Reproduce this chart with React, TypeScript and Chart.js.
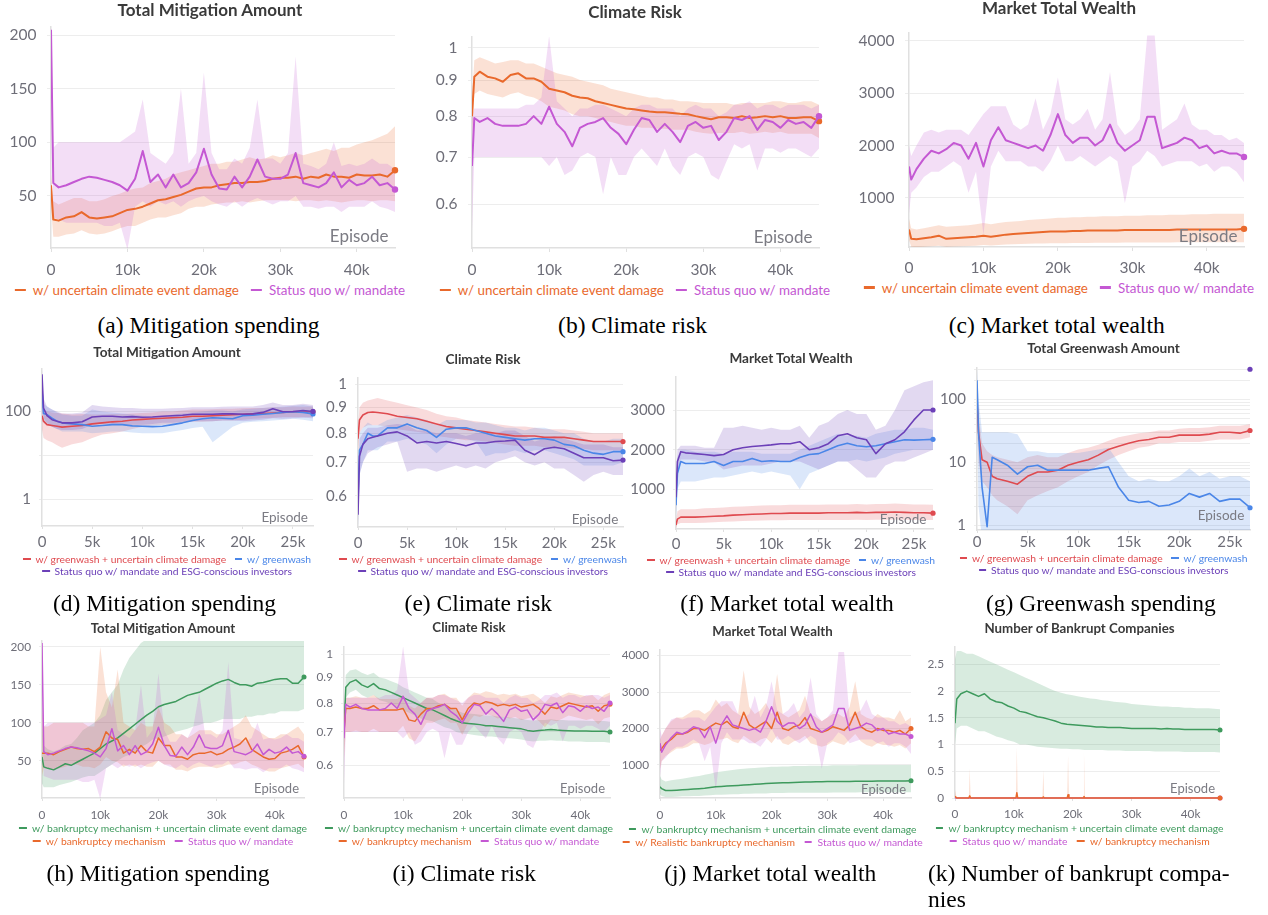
import React, { useEffect, useRef } from "react";
import { Chart, registerables } from "chart.js";

Chart.register(...registerables);

// ---------------- episodes (x values) ----------------
const EP45 = [0, 300, 1000, 2000, 3000, 4000, 5000, 6000, 7000, 8000, 9000, 10000, 11000, 12000, 13000, 14000, 15000, 16000, 17000, 18000, 19000, 20000, 21000, 22000, 23000, 24000, 25000, 26000, 27000, 28000, 29000, 30000, 31000, 32000, 33000, 34000, 35000, 36000, 37000, 38000, 39000, 40000, 41000, 42000, 43000, 44000, 45000];
const EP27 = [0, 150, 500, 1000, 1500, 2000, 3000, 4000, 5000, 6000, 7000, 8000, 9000, 10000, 11000, 12000, 13000, 14000, 15000, 16000, 17000, 18000, 19000, 20000, 21000, 22000, 23000, 24000, 25000, 26000, 27000];
const BK_COUNT_X = [0, 300, 2350, 2500, 2650, 10350, 10500, 10650, 14850, 15000, 15150, 19050, 19200, 19350, 21750, 21900, 22050, 45000];
const SQ_COUNT_X = [0, 45000];
const ESG_GW_X = [27000];

// ---------------- tick labels ----------------
const X_TICKS_45 = [0, 10000, 20000, 30000, 40000];
const X_TICKS_27 = [0, 5000, 10000, 15000, 20000, 25000];
const Y_MIT = [50, 100, 150, 200];
const Y_RISK = [0.6, 0.7, 0.8, 0.9, 1];
const Y_WEALTH = [1000, 2000, 3000, 4000];
const Y_WEALTH_F = [1000, 2000, 3000];
const Y_LOG_D = [1, 10, 100];
const Y_LOG_D_LABELS = [1, 100];
const Y_LOG_G = [1, 2, 3, 4, 5, 6, 7, 8, 9, 10, 20, 30, 40, 50, 60, 70, 80, 90, 100, 200, 300];
const Y_LOG_G_LABELS = [1, 10, 100];
const Y_COUNT = [0, 0.5, 1, 1.5, 2, 2.5];

// ---------------- series labels ----------------
const L_UNC = "w/ uncertain climate event damage";
const L_SQ = "Status quo w/ mandate";
const L_GW_UNC = "w/ greenwash + uncertain climate damage";
const L_GW = "w/ greenwash";
const L_ESG = "Status quo w/ mandate and ESG-conscious investors";
const L_BK_UNC = "w/ bankruptcy mechanism + uncertain climate event damage";
const L_BK = "w/ bankruptcy mechanism";
const L_BK_REAL = "w/ Realistic bankruptcy mechanism";

// ---------------- status quo w/ mandate (45k episodes) ----------------
const SQ_MIT = [205, 62, 58, 60, 63, 66, 68, 67, 65, 63, 60, 55, 66, 92, 63, 70, 58, 70, 58, 62, 72, 94, 70, 57, 56, 68, 58, 68, 84, 68, 66, 66, 70, 90, 62, 60, 58, 62, 72, 58, 65, 60, 62, 68, 60, 62, 56];
const SQ_MIT_HI = [210, 95, 100, 100, 100, 100, 100, 100, 100, 100, 100, 105, 110, 140, 90, 85, 80, 90, 150, 80, 90, 165, 90, 75, 75, 85, 80, 95, 140, 85, 85, 80, 90, 180, 80, 78, 75, 80, 100, 78, 80, 78, 80, 85, 80, 80, 75];
const SQ_MIT_LO = [150, 30, 28, 25, 25, 25, 25, 25, 22, 22, 25, 0, 40, 45, 40, 45, 42, 45, 40, 45, 48, 50, 45, 42, 40, 45, 40, 45, 48, 45, 42, 45, 45, 50, 40, 40, 38, 40, 40, 35, 40, 40, 40, 45, 40, 38, 35];

const SQ_RISK = [0.68, 0.795, 0.785, 0.795, 0.78, 0.775, 0.775, 0.775, 0.78, 0.8, 0.78, 0.825, 0.78, 0.76, 0.725, 0.77, 0.78, 0.785, 0.795, 0.77, 0.755, 0.73, 0.765, 0.795, 0.79, 0.76, 0.78, 0.76, 0.735, 0.775, 0.785, 0.77, 0.775, 0.74, 0.76, 0.795, 0.79, 0.8, 0.765, 0.79, 0.785, 0.77, 0.79, 0.78, 0.785, 0.77, 0.8];
const SQ_RISK_HI = [0.8, 0.82, 0.82, 0.82, 0.82, 0.82, 0.82, 0.82, 0.83, 0.83, 0.85, 1.04, 0.84, 0.82, 0.8, 0.82, 0.82, 0.83, 0.83, 0.82, 0.81, 0.8, 0.82, 0.83, 0.83, 0.82, 0.82, 0.82, 0.8, 0.82, 0.83, 0.82, 0.82, 0.8, 0.81, 0.83, 0.83, 0.84, 0.82, 0.83, 0.83, 0.82, 0.83, 0.83, 0.83, 0.82, 0.83];
const SQ_RISK_LO = [0.55, 0.7, 0.7, 0.7, 0.7, 0.7, 0.7, 0.7, 0.7, 0.7, 0.7, 0.68, 0.7, 0.66, 0.67, 0.7, 0.71, 0.7, 0.62, 0.7, 0.66, 0.66, 0.7, 0.72, 0.7, 0.68, 0.72, 0.68, 0.66, 0.7, 0.71, 0.7, 0.66, 0.65, 0.69, 0.73, 0.72, 0.73, 0.67, 0.72, 0.72, 0.71, 0.72, 0.72, 0.71, 0.7, 0.72];

const SQ_WEALTH = [1600, 1350, 1550, 1750, 1900, 1850, 1930, 2050, 2000, 1750, 2050, 1600, 2100, 2350, 2100, 2050, 2000, 1950, 2000, 1900, 2200, 2600, 2200, 2050, 2150, 2150, 2000, 2100, 2400, 2050, 1900, 2000, 2100, 2550, 2550, 1950, 2000, 2050, 2150, 2100, 1950, 2000, 1850, 1900, 1850, 1850, 1780];
const SQ_WEALTH_HI = [2000, 1800, 2000, 2250, 2300, 2250, 2300, 2300, 2300, 2200, 2400, 2600, 2750, 2750, 2750, 2400, 2300, 2400, 2900, 2300, 2600, 3300, 2500, 2400, 2500, 2700, 2300, 2500, 3400, 2400, 2200, 2300, 2500, 4100, 4100, 2300, 2400, 2500, 2800, 2400, 2300, 2300, 2200, 2200, 2100, 2150, 2050];
const SQ_WEALTH_LO = [700, 1100, 1200, 1400, 1500, 1500, 1600, 1700, 1600, 1100, 1500, 300, 1600, 1900, 1700, 1700, 1700, 1600, 1600, 1500, 1700, 2000, 1700, 1700, 1800, 1700, 1600, 1700, 1800, 1700, 900, 1600, 1700, 1900, 1800, 1600, 1650, 1700, 1700, 1700, 1600, 1650, 1500, 1600, 1600, 1500, 1300];

const SQ_COUNT = [0, 0];

// ---------------- w/ uncertain climate event damage (45k) ----------------
const UNC_MIT = [60, 28, 27, 30, 31, 35, 30, 29, 30, 31, 34, 37, 38, 40, 43, 46, 47, 49, 51, 54, 57, 58, 58, 60, 61, 62, 62, 63, 63, 64, 66, 67, 67, 68, 66, 68, 67, 70, 68, 68, 67, 70, 69, 69, 70, 68, 74];
const UNC_MIT_HI = [70, 45, 42, 45, 48, 48, 45, 45, 47, 50, 52, 55, 57, 58, 62, 64, 66, 70, 72, 74, 76, 78, 80, 80, 82, 82, 84, 86, 84, 85, 88, 86, 88, 90, 88, 90, 92, 94, 92, 95, 95, 98, 100, 102, 105, 108, 115];
const UNC_MIT_LO = [40, 12, 12, 14, 15, 18, 15, 14, 15, 17, 20, 22, 22, 25, 28, 30, 30, 32, 34, 38, 40, 40, 42, 43, 44, 44, 45, 44, 45, 46, 46, 46, 46, 45, 46, 46, 45, 46, 45, 44, 45, 46, 46, 45, 46, 46, 45];

const UNC_RISK = [0.8, 0.91, 0.925, 0.91, 0.905, 0.895, 0.915, 0.92, 0.905, 0.905, 0.895, 0.875, 0.87, 0.865, 0.855, 0.85, 0.848, 0.84, 0.835, 0.83, 0.825, 0.82, 0.818, 0.815, 0.812, 0.81, 0.81, 0.808, 0.806, 0.805, 0.8, 0.796, 0.792, 0.797, 0.797, 0.795, 0.8, 0.795, 0.797, 0.8, 0.797, 0.8, 0.795, 0.795, 0.797, 0.797, 0.787];
const UNC_RISK_HI = [0.85, 0.96, 0.97, 0.96, 0.95, 0.955, 0.96, 0.96, 0.95, 0.95, 0.94, 0.93, 0.92, 0.915, 0.91, 0.9, 0.895, 0.89, 0.885, 0.875, 0.87, 0.865, 0.86, 0.855, 0.85, 0.85, 0.845, 0.845, 0.84, 0.84, 0.838, 0.835, 0.835, 0.835, 0.835, 0.83, 0.835, 0.835, 0.835, 0.835, 0.84, 0.84, 0.835, 0.835, 0.84, 0.84, 0.83];
const UNC_RISK_LO = [0.75, 0.86, 0.87, 0.86, 0.855, 0.85, 0.86, 0.865, 0.855, 0.85, 0.84, 0.825, 0.82, 0.815, 0.805, 0.8, 0.8, 0.795, 0.79, 0.785, 0.78, 0.775, 0.775, 0.77, 0.77, 0.768, 0.768, 0.765, 0.765, 0.765, 0.76, 0.757, 0.755, 0.757, 0.757, 0.757, 0.76, 0.755, 0.757, 0.76, 0.757, 0.76, 0.755, 0.755, 0.755, 0.755, 0.745];

const UNC_WEALTH = [400, 220, 210, 230, 250, 280, 220, 230, 240, 250, 260, 280, 260, 280, 300, 310, 320, 330, 340, 350, 360, 360, 360, 370, 370, 380, 380, 380, 380, 380, 390, 390, 390, 390, 390, 390, 390, 400, 400, 400, 400, 400, 400, 400, 400, 400, 410];
const UNC_WEALTH_HI = [600, 420, 400, 420, 450, 480, 450, 460, 470, 480, 500, 520, 500, 520, 540, 550, 560, 580, 590, 600, 610, 620, 620, 630, 630, 640, 640, 650, 650, 650, 660, 660, 660, 670, 670, 670, 680, 680, 680, 690, 690, 690, 700, 700, 700, 700, 700];
const UNC_WEALTH_LO = [200, 70, 60, 70, 80, 90, 70, 75, 80, 85, 90, 100, 95, 100, 110, 115, 120, 125, 130, 130, 135, 135, 135, 140, 140, 140, 145, 145, 145, 145, 150, 150, 150, 150, 150, 150, 150, 155, 155, 155, 155, 155, 155, 155, 155, 155, 155];

// ---------------- greenwash runs (27k) ----------------
const GWU_MIT = [80, 60, 50, 48, 46, 44, 46, 48, 52, 55, 58, 60, 64, 66, 68, 70, 72, 74, 78, 78, 80, 82, 84, 86, 88, 90, 92, 95, 98, 97, 98];
const GWU_MIT_HI = [150, 110, 100, 95, 92, 90, 85, 88, 85, 85, 88, 88, 90, 92, 95, 100, 100, 105, 110, 110, 112, 115, 115, 118, 120, 120, 125, 125, 130, 128, 130];
const GWU_MIT_LO = [40, 25, 22, 20, 17, 15, 18, 20, 25, 30, 32, 35, 40, 45, 48, 50, 52, 55, 58, 58, 60, 62, 62, 65, 68, 70, 72, 75, 75, 75, 75];
const GW_MIT = [300, 90, 85, 70, 60, 55, 52, 50, 46, 48, 50, 50, 47, 46, 45, 46, 50, 55, 62, 68, 72, 70, 68, 80, 82, 86, 90, 95, 98, 95, 88];
const GW_MIT_HI = [600, 150, 130, 110, 95, 85, 80, 80, 110, 100, 95, 90, 85, 80, 78, 78, 85, 90, 95, 100, 105, 105, 100, 110, 115, 120, 125, 130, 135, 140, 130];
const GW_MIT_LO = [100, 55, 50, 45, 40, 35, 35, 35, 32, 33, 35, 35, 33, 32, 32, 32, 35, 38, 42, 45, 20, 30, 45, 55, 58, 60, 62, 65, 68, 65, 60];
const ESG_MIT = [700, 120, 80, 65, 60, 55, 55, 58, 75, 78, 78, 75, 76, 74, 75, 78, 80, 82, 86, 86, 86, 88, 88, 86, 88, 95, 115, 98, 100, 105, 100];
const ESG_MIT_HI = [900, 200, 130, 110, 100, 90, 90, 95, 140, 130, 125, 120, 120, 115, 115, 115, 118, 120, 125, 125, 125, 128, 130, 130, 130, 140, 160, 140, 140, 150, 140];
const ESG_MIT_LO = [300, 70, 55, 45, 40, 38, 38, 40, 50, 52, 52, 50, 50, 50, 52, 55, 55, 58, 60, 60, 60, 62, 62, 60, 62, 65, 70, 68, 70, 72, 70];

const GWU_RISK = [0.78, 0.85, 0.87, 0.88, 0.882, 0.88, 0.875, 0.865, 0.86, 0.855, 0.845, 0.835, 0.825, 0.82, 0.815, 0.81, 0.805, 0.8, 0.795, 0.79, 0.79, 0.79, 0.785, 0.785, 0.785, 0.78, 0.775, 0.77, 0.77, 0.77, 0.77];
const GWU_RISK_HI = [0.82, 0.9, 0.92, 0.93, 0.935, 0.94, 0.93, 0.92, 0.91, 0.9, 0.89, 0.875, 0.865, 0.86, 0.85, 0.845, 0.84, 0.835, 0.83, 0.825, 0.825, 0.82, 0.815, 0.815, 0.815, 0.81, 0.805, 0.8, 0.8, 0.8, 0.8];
const GWU_RISK_LO = [0.72, 0.8, 0.82, 0.83, 0.83, 0.83, 0.825, 0.815, 0.81, 0.805, 0.8, 0.79, 0.785, 0.78, 0.775, 0.775, 0.77, 0.765, 0.76, 0.755, 0.755, 0.755, 0.75, 0.75, 0.75, 0.745, 0.745, 0.74, 0.74, 0.74, 0.74];
const GW_RISK = [0.58, 0.74, 0.76, 0.8, 0.79, 0.79, 0.82, 0.82, 0.835, 0.82, 0.81, 0.785, 0.815, 0.82, 0.82, 0.81, 0.8, 0.79, 0.785, 0.78, 0.775, 0.78, 0.78, 0.775, 0.76, 0.755, 0.74, 0.73, 0.726, 0.735, 0.735];
const GW_RISK_HI = [0.65, 0.8, 0.82, 0.84, 0.83, 0.83, 0.85, 0.86, 0.87, 0.86, 0.85, 0.83, 0.85, 0.85, 0.85, 0.84, 0.84, 0.83, 0.82, 0.82, 0.81, 0.82, 0.82, 0.81, 0.8, 0.8, 0.78, 0.77, 0.77, 0.78, 0.78];
const GW_RISK_LO = [0.52, 0.66, 0.7, 0.74, 0.74, 0.74, 0.77, 0.77, 0.78, 0.77, 0.76, 0.73, 0.76, 0.78, 0.78, 0.77, 0.72, 0.73, 0.73, 0.74, 0.73, 0.74, 0.74, 0.73, 0.72, 0.71, 0.69, 0.69, 0.69, 0.69, 0.7];
const ESG_RISK = [0.55, 0.72, 0.76, 0.78, 0.785, 0.79, 0.8, 0.805, 0.79, 0.765, 0.77, 0.765, 0.77, 0.763, 0.755, 0.765, 0.765, 0.77, 0.772, 0.775, 0.74, 0.725, 0.745, 0.75, 0.745, 0.73, 0.715, 0.715, 0.715, 0.705, 0.707];
const ESG_RISK_HI = [0.6, 0.78, 0.8, 0.82, 0.82, 0.82, 0.83, 0.835, 0.83, 0.81, 0.81, 0.8, 0.8, 0.8, 0.79, 0.8, 0.8, 0.8, 0.81, 0.81, 0.79, 0.77, 0.78, 0.79, 0.78, 0.77, 0.76, 0.76, 0.76, 0.75, 0.75];
const ESG_RISK_LO = [0.52, 0.66, 0.7, 0.73, 0.74, 0.75, 0.76, 0.77, 0.67, 0.68, 0.68, 0.67, 0.68, 0.69, 0.68, 0.69, 0.68, 0.7, 0.71, 0.72, 0.7, 0.69, 0.7, 0.68, 0.68, 0.66, 0.64, 0.66, 0.67, 0.66, 0.66];

const GWU_WEALTH = [100, 250, 300, 300, 300, 300, 310, 320, 330, 350, 360, 370, 380, 390, 390, 400, 400, 400, 400, 410, 410, 410, 420, 410, 420, 420, 430, 420, 410, 410, 400];
const GWU_WEALTH_HI = [200, 450, 500, 500, 500, 500, 520, 530, 540, 560, 570, 580, 590, 600, 600, 610, 610, 610, 610, 620, 620, 620, 630, 620, 630, 630, 640, 630, 620, 620, 610];
const GWU_WEALTH_LO = [20, 120, 150, 150, 150, 150, 160, 170, 180, 190, 200, 210, 215, 220, 220, 225, 225, 225, 225, 230, 230, 230, 235, 230, 235, 235, 240, 235, 230, 230, 225];
const GW_WEALTH = [600, 1400, 1700, 1650, 1650, 1650, 1650, 1700, 1600, 1700, 1700, 1780, 1700, 1720, 1700, 1700, 1800, 1880, 1900, 2000, 2100, 2160, 2100, 2075, 2100, 2150, 2200, 2250, 2240, 2250, 2260];
const GW_WEALTH_HI = [1000, 1800, 2000, 2000, 1980, 1950, 1950, 1950, 1900, 1950, 1950, 1950, 1900, 1900, 1900, 1900, 2000, 2100, 2200, 2300, 2400, 2350, 2350, 2300, 2400, 2450, 2500, 2500, 2550, 2550, 2500];
const GW_WEALTH_LO = [200, 1000, 1200, 1200, 1200, 1200, 1250, 1300, 1300, 1350, 1400, 1450, 1400, 1450, 1400, 1350, 1000, 1400, 1500, 1600, 1700, 1700, 1750, 1700, 1750, 1800, 1900, 1950, 2000, 2000, 2000];
const ESG_WEALTH = [800, 1700, 1950, 1920, 1910, 1900, 1880, 1850, 1880, 2000, 2050, 2080, 2100, 2120, 2150, 2150, 2200, 2000, 2050, 2150, 2350, 2400, 2300, 2250, 1900, 2150, 2250, 2450, 2750, 3000, 3000];
const ESG_WEALTH_HI = [1200, 2000, 2100, 2100, 2100, 2100, 2050, 2050, 2550, 2550, 2600, 2550, 2500, 2550, 2500, 2500, 2600, 2300, 2600, 2700, 2900, 3000, 2900, 2900, 2500, 2600, 3000, 3500, 3600, 3700, 3750];
const ESG_WEALTH_LO = [400, 1400, 1750, 1750, 1750, 1750, 1700, 1680, 1500, 1550, 1600, 1600, 1600, 1650, 1700, 1700, 1700, 1600, 1500, 1600, 1700, 1700, 1500, 1300, 1300, 1600, 1700, 1700, 1800, 1900, 2000];

const GWU_GW = [100, 30, 11, 10, 6, 5.5, 5, 4.5, 6, 7, 7, 7.5, 9, 10, 11, 13, 16, 18, 20, 22, 23, 25, 25, 27, 27, 27, 28, 30, 30, 29, 32];
const GWU_GW_HI = [150, 60, 20, 15, 13, 12, 11, 10, 12, 13, 12, 12, 14, 16, 17, 19, 22, 25, 27, 29, 30, 32, 32, 34, 35, 35, 36, 38, 38, 38, 40];
const GWU_GW_LO = [40, 10, 5, 4, 3, 2.5, 2, 1.5, 2.5, 3, 3.5, 4, 5, 6, 7, 9, 11, 13, 15, 17, 18, 20, 20, 21, 21, 21, 22, 23, 23, 23, 25];
const GW_GW = [200, 30, 4, 0.95, 12, 11, 9, 6.5, 8.5, 9, 7.5, 7.5, 7.5, 7.5, 7.5, 8, 8.5, 4, 2.5, 2.3, 2.4, 2, 2.1, 2.4, 3.2, 2.8, 3.2, 2.4, 2.6, 2.6, 1.9];
const GW_GW_HI = [300, 100, 30, 30, 30, 30, 30, 28, 15, 15, 14, 14, 14, 14, 15, 16, 17, 10, 6, 5, 5.5, 5, 5, 6, 8, 6, 7, 5.5, 6, 6, 5];
const GW_GW_LO = [50, 2, 0.6, 0.5, 0.6, 0.6, 0.6, 0.6, 0.7, 0.8, 0.7, 0.7, 0.7, 0.7, 0.7, 0.7, 0.6, 0.6, 0.6, 0.6, 0.6, 0.6, 0.6, 0.6, 0.6, 0.6, 0.6, 0.6, 0.6, 0.6, 0.6];
const ESG_GW = [300];

// ---------------- bankruptcy runs (45k) ----------------
const BKU_MIT = [55, 42, 40, 38, 42, 46, 44, 48, 52, 56, 60, 66, 72, 76, 80, 86, 92, 98, 104, 110, 115, 121, 124, 126, 128, 132, 136, 138, 140, 144, 148, 152, 155, 157, 153, 150, 150, 148, 152, 153, 155, 157, 158, 158, 152, 152, 160];
const BKU_MIT_HI = [100, 70, 65, 62, 65, 70, 72, 80, 90, 95, 100, 110, 130, 140, 150, 170, 185, 195, 205, 210, 212, 212, 212, 212, 212, 212, 212, 212, 212, 212, 212, 212, 212, 212, 212, 212, 212, 212, 212, 212, 212, 212, 212, 212, 212, 212, 212];
const BKU_MIT_LO = [20, 15, 15, 15, 18, 20, 22, 25, 28, 30, 30, 35, 40, 45, 50, 55, 58, 62, 68, 72, 78, 80, 82, 85, 88, 90, 92, 95, 97, 100, 100, 102, 105, 105, 105, 105, 108, 108, 110, 110, 112, 112, 115, 115, 115, 115, 118];
const BK_MIT = [60, 60, 60, 58, 62, 65, 68, 66, 65, 66, 62, 68, 88, 80, 78, 60, 65, 60, 70, 62, 60, 80, 70, 70, 55, 55, 52, 58, 60, 60, 62, 58, 60, 65, 68, 72, 80, 65, 60, 55, 52, 53, 60, 62, 65, 70, 55];
const BK_MIT_HI = [120, 95, 95, 100, 100, 100, 100, 100, 100, 95, 95, 200, 140, 120, 170, 100, 95, 90, 100, 95, 95, 120, 100, 95, 85, 85, 80, 85, 90, 90, 90, 85, 85, 90, 95, 100, 110, 95, 90, 85, 80, 80, 85, 85, 90, 95, 85];
const BK_MIT_LO = [30, 40, 40, 38, 40, 42, 45, 45, 42, 42, 40, 45, 55, 50, 48, 42, 45, 42, 45, 42, 42, 50, 45, 45, 38, 38, 36, 40, 42, 42, 42, 40, 42, 45, 45, 48, 50, 45, 42, 38, 36, 36, 40, 42, 44, 46, 40];

const BKU_RISK = [0.7, 0.86, 0.88, 0.89, 0.87, 0.86, 0.875, 0.855, 0.85, 0.84, 0.83, 0.82, 0.81, 0.8, 0.79, 0.78, 0.775, 0.765, 0.755, 0.745, 0.737, 0.73, 0.728, 0.726, 0.724, 0.72, 0.72, 0.718, 0.716, 0.714, 0.712, 0.71, 0.705, 0.702, 0.705, 0.706, 0.708, 0.706, 0.705, 0.704, 0.703, 0.703, 0.703, 0.702, 0.702, 0.702, 0.7];
const BKU_RISK_HI = [0.75, 0.91, 0.93, 0.935, 0.92, 0.91, 0.92, 0.9, 0.895, 0.885, 0.875, 0.86, 0.85, 0.84, 0.83, 0.82, 0.815, 0.8, 0.79, 0.78, 0.775, 0.765, 0.762, 0.76, 0.758, 0.755, 0.755, 0.752, 0.75, 0.748, 0.746, 0.744, 0.74, 0.738, 0.74, 0.74, 0.742, 0.74, 0.74, 0.738, 0.738, 0.738, 0.737, 0.736, 0.736, 0.736, 0.734];
const BKU_RISK_LO = [0.65, 0.82, 0.84, 0.85, 0.83, 0.82, 0.83, 0.81, 0.805, 0.795, 0.785, 0.775, 0.765, 0.755, 0.745, 0.74, 0.735, 0.725, 0.715, 0.71, 0.7, 0.695, 0.693, 0.69, 0.688, 0.685, 0.685, 0.683, 0.68, 0.68, 0.678, 0.676, 0.672, 0.67, 0.672, 0.672, 0.674, 0.672, 0.672, 0.67, 0.67, 0.67, 0.668, 0.668, 0.668, 0.668, 0.666];
const BK_RISK = [0.7, 0.78, 0.78, 0.785, 0.78, 0.78, 0.79, 0.775, 0.775, 0.775, 0.775, 0.78, 0.74, 0.735, 0.76, 0.78, 0.78, 0.79, 0.795, 0.78, 0.78, 0.74, 0.78, 0.8, 0.795, 0.805, 0.8, 0.79, 0.795, 0.79, 0.795, 0.785, 0.79, 0.795, 0.78, 0.76, 0.785, 0.78, 0.79, 0.8, 0.795, 0.79, 0.785, 0.79, 0.77, 0.79, 0.795];
const BK_RISK_HI = [0.75, 0.82, 0.82, 0.825, 0.82, 0.82, 0.83, 0.815, 0.815, 0.815, 0.815, 0.83, 0.79, 0.78, 0.8, 0.82, 0.82, 0.83, 0.835, 0.82, 0.82, 0.79, 0.82, 0.84, 0.835, 0.845, 0.84, 0.83, 0.835, 0.83, 0.835, 0.825, 0.83, 0.835, 0.82, 0.8, 0.825, 0.82, 0.83, 0.84, 0.835, 0.83, 0.825, 0.83, 0.81, 0.83, 0.84];
const BK_RISK_LO = [0.62, 0.7, 0.7, 0.705, 0.7, 0.7, 0.71, 0.7, 0.7, 0.7, 0.7, 0.72, 0.68, 0.67, 0.7, 0.73, 0.73, 0.74, 0.745, 0.73, 0.73, 0.69, 0.73, 0.755, 0.75, 0.76, 0.755, 0.745, 0.75, 0.745, 0.75, 0.74, 0.745, 0.75, 0.735, 0.715, 0.74, 0.735, 0.745, 0.755, 0.75, 0.745, 0.74, 0.745, 0.725, 0.745, 0.75];

const BKU_WEALTH = [400, 350, 300, 300, 310, 320, 330, 340, 350, 360, 380, 400, 410, 420, 430, 440, 450, 460, 470, 480, 490, 500, 505, 510, 515, 520, 525, 530, 535, 540, 540, 545, 545, 550, 550, 550, 555, 555, 555, 555, 560, 560, 560, 560, 560, 560, 570];
const BKU_WEALTH_HI = [700, 600, 550, 580, 600, 620, 650, 680, 700, 730, 760, 800, 820, 840, 860, 880, 900, 910, 920, 930, 940, 950, 950, 960, 960, 970, 970, 970, 980, 980, 980, 980, 990, 990, 990, 990, 990, 1000, 1000, 1000, 1000, 1000, 1000, 1000, 1000, 1000, 1000];
const BKU_WEALTH_LO = [200, 150, 120, 120, 130, 140, 140, 150, 150, 160, 170, 180, 180, 190, 200, 200, 210, 210, 220, 220, 220, 230, 230, 230, 235, 235, 235, 240, 240, 240, 240, 240, 245, 245, 245, 245, 245, 250, 250, 250, 250, 250, 250, 250, 250, 250, 250];
const BK_WEALTH = [1400, 1450, 1600, 1700, 1850, 1850, 1900, 2000, 2000, 1950, 2050, 2150, 2100, 2200, 2050, 2000, 2450, 2100, 2000, 2100, 2200, 2000, 2450, 2000, 1950, 2050, 2100, 2300, 2000, 1950, 1900, 1950, 2050, 2000, 1950, 2100, 2450, 2050, 1950, 1900, 2000, 1950, 1950, 1900, 1950, 1850, 2000];
const BK_WEALTH_HI = [1700, 1800, 2000, 2200, 2300, 2300, 2400, 2500, 2500, 2400, 2500, 2800, 2600, 2700, 2500, 2400, 3600, 2600, 2400, 2500, 2700, 2400, 3500, 2400, 2300, 2400, 2500, 2900, 2400, 2300, 2200, 2300, 2400, 2400, 2300, 2600, 3300, 2400, 2300, 2250, 2400, 2300, 2300, 2250, 2500, 2200, 2300];
const BK_WEALTH_LO = [900, 1100, 1250, 1350, 1450, 1450, 1500, 1600, 1600, 1550, 1600, 1700, 1700, 1750, 1650, 1600, 1800, 1700, 1600, 1700, 1750, 1600, 1800, 1600, 1550, 1650, 1700, 1800, 1600, 1550, 1500, 1550, 1650, 1600, 1550, 1700, 1850, 1650, 1550, 1500, 1600, 1550, 1550, 1500, 1550, 1450, 1600];

const BKU_COUNT = [1.4, 1.85, 1.95, 2.0, 1.95, 1.9, 1.95, 1.85, 1.8, 1.78, 1.72, 1.68, 1.62, 1.6, 1.56, 1.52, 1.5, 1.47, 1.44, 1.4, 1.38, 1.37, 1.36, 1.35, 1.34, 1.33, 1.33, 1.32, 1.32, 1.32, 1.31, 1.3, 1.3, 1.3, 1.3, 1.3, 1.29, 1.3, 1.29, 1.29, 1.28, 1.28, 1.28, 1.28, 1.28, 1.28, 1.27];
const BKU_COUNT_HI = [2.6, 2.75, 2.75, 2.7, 2.7, 2.65, 2.6, 2.55, 2.5, 2.45, 2.4, 2.35, 2.3, 2.25, 2.2, 2.15, 2.1, 2.05, 2.0, 1.97, 1.94, 1.92, 1.9, 1.88, 1.86, 1.85, 1.83, 1.82, 1.8, 1.79, 1.78, 1.76, 1.75, 1.74, 1.73, 1.72, 1.71, 1.71, 1.7, 1.7, 1.69, 1.69, 1.68, 1.68, 1.68, 1.67, 1.66];
const BKU_COUNT_LO = [1.0, 1.3, 1.35, 1.35, 1.3, 1.25, 1.25, 1.2, 1.15, 1.12, 1.08, 1.05, 1.0, 1.0, 0.98, 0.96, 0.95, 0.94, 0.93, 0.92, 0.92, 0.91, 0.91, 0.9, 0.9, 0.9, 0.9, 0.89, 0.89, 0.89, 0.88, 0.88, 0.88, 0.88, 0.88, 0.87, 0.87, 0.87, 0.87, 0.87, 0.86, 0.86, 0.86, 0.86, 0.86, 0.86, 0.85];
const BK_COUNT = [0.03, 0, 0, 0.04, 0, 0, 0.1, 0, 0, 0.02, 0, 0, 0.06, 0, 0, 0.03, 0, 0];
const BK_COUNT_HI = [0.15, 0, 0, 0.55, 0, 0, 0.95, 0, 0, 0.52, 0, 0, 0.8, 0, 0, 0.86, 0, 0];
const BK_COUNT_LO = [0, 0, 0, 0, 0, 0, 0, 0, 0, 0, 0, 0, 0, 0, 0, 0, 0, 0];

// ---------------- styles ----------------
const ORANGE = "#e9692c";
const MAGENTA = "#c458d3";
const RED = "#df4a4f";
const BLUE = "#4a86e8";
const VIOLET = "#6c40b8";
const GREEN = "#3e9a5d";
const TICK = "#6e6e78";
const GRID = "#ededed";
const AXIS = "#e0e0e0";
const SANS = "Lato, 'Noto Sans', sans-serif";
const SERIF = "'Liberation Serif', 'Times New Roman', serif";

type Series = { label: string; color: string; x: number[]; mean: number[]; hi?: number[]; lo?: number[] };
type Panel = {
  title: string; cx: number; titleY: number; titleSize: number;
  L: number; T: number; R: number; B: number; yw: number;
  xMax: number; xTicks: number[];
  yType: "linear" | "logarithmic"; yMin: number; yMax: number; yTicks: number[]; yLabels: number[];
  tickSize: number; tickLen: number; xPad: number; yPad: number;
  epSize: number; epDx: number; epDy: number;
  lw: number; dot: number;
  series: Series[];
  legend: number[][]; legendY: number[]; legendSize: number; dashW: number; dashH: number; dashGap: number; itemGap: number;
  caption: string[]; capX: number; capY: number; capLeft?: boolean;
};

const ROW1 = { titleSize: 17, yw: 52, tickSize: 15.5, tickLen: 4, yPad: 10.5, epSize: 17, lw: 2, dot: 3.2, legendSize: 13.4, dashW: 11, dashH: 2.5, dashGap: 7, itemGap: 12, capY: 325 };
const ROW2 = { titleSize: 13.6, yw: 48, tickSize: 15, tickLen: 3, yPad: 8, epSize: 13.5, lw: 1.6, dot: 2.6, legendSize: 10.3, dashW: 7.5, dashH: 2, dashGap: 5, itemGap: 8.5, capY: 602.5 };
const ROW3 = { titleSize: 13.3, yw: 42, tickSize: 11.8, tickLen: 3, yPad: 8, epSize: 13, lw: 1.5, dot: 2.5, legendSize: 10.35, dashW: 7.5, dashH: 2, dashGap: 5.5, itemGap: 9.5, capY: 873.3 };

const PANELS: Panel[] = [
  {
    ...ROW1, title: "Total Mitigation Amount", cx: 210, titleY: 10,
    L: 51, T: 27, R: 395, B: 248, xMax: 45000, xTicks: X_TICKS_45,
    yType: "linear", yMin: 1.5, yMax: 207.5, yTicks: Y_MIT, yLabels: Y_MIT, xPad: 8.5,
    epDx: 6.5, epDy: 11,
    series: [
      { label: L_UNC, color: ORANGE, x: EP45, mean: UNC_MIT, hi: UNC_MIT_HI, lo: UNC_MIT_LO },
      { label: L_SQ, color: MAGENTA, x: EP45, mean: SQ_MIT, hi: SQ_MIT_HI, lo: SQ_MIT_LO },
    ],
    legend: [[0, 1]], legendY: [290], caption: ["(a) Mitigation spending"], capX: 208.5,
  },
  {
    ...ROW1, title: "Climate Risk", cx: 635, titleY: 12,
    L: 472, T: 37, R: 819, B: 248, xMax: 45000, xTicks: X_TICKS_45,
    yType: "logarithmic", yMin: 0.52, yMax: 1.036, yTicks: Y_RISK, yLabels: Y_RISK, xPad: 8.5,
    epDx: 6.5, epDy: 10,
    series: [
      { label: L_UNC, color: ORANGE, x: EP45, mean: UNC_RISK, hi: UNC_RISK_HI, lo: UNC_RISK_LO },
      { label: L_SQ, color: MAGENTA, x: EP45, mean: SQ_RISK, hi: SQ_RISK_HI, lo: SQ_RISK_LO },
    ],
    legend: [[0, 1]], legendY: [290], caption: ["(b) Climate risk"], capX: 632.5,
  },
  {
    ...ROW1, title: "Market Total Wealth", cx: 1059, titleY: 8,
    L: 909, T: 33, R: 1244, B: 247, xMax: 45000, xTicks: X_TICKS_45,
    yType: "linear", yMin: 64, yMax: 4147, yTicks: Y_WEALTH, yLabels: Y_WEALTH, xPad: 8,
    epDx: 6.5, epDy: 10.7,
    series: [
      { label: L_UNC, color: ORANGE, x: EP45, mean: UNC_WEALTH, hi: UNC_WEALTH_HI, lo: UNC_WEALTH_LO },
      { label: L_SQ, color: MAGENTA, x: EP45, mean: SQ_WEALTH, hi: SQ_WEALTH_HI, lo: SQ_WEALTH_LO },
    ],
    legend: [[0, 1]], legendY: [287.5], caption: ["(c) Market total wealth"], capX: 1056.7,
  },
  {
    ...ROW2, title: "Total Mitigation Amount", cx: 167, titleY: 351.5,
    L: 42, T: 369, R: 313, B: 526, xMax: 27000, xTicks: X_TICKS_27,
    yType: "logarithmic", yMin: 0.2465, yMax: 925, yTicks: Y_LOG_D, yLabels: Y_LOG_D_LABELS, xPad: 3.7,
    epDx: 5, epDy: 8.3,
    series: [
      { label: L_GW_UNC, color: RED, x: EP27, mean: GWU_MIT, hi: GWU_MIT_HI, lo: GWU_MIT_LO },
      { label: L_GW, color: BLUE, x: EP27, mean: GW_MIT, hi: GW_MIT_HI, lo: GW_MIT_LO },
      { label: L_ESG, color: VIOLET, x: EP27, mean: ESG_MIT, hi: ESG_MIT_HI, lo: ESG_MIT_LO },
    ],
    legend: [[0, 1], [2]], legendY: [559, 570.7], caption: ["(d) Mitigation spending"], capX: 164.5,
  },
  {
    ...ROW2, title: "Climate Risk", cx: 483, titleY: 358.5,
    L: 358, T: 378, R: 623, B: 527, xMax: 27000, xTicks: X_TICKS_27,
    yType: "logarithmic", yMin: 0.52, yMax: 1.031, yTicks: Y_RISK, yLabels: Y_RISK, xPad: 3.8,
    epDx: 4.7, epDy: 7.3,
    series: [
      { label: L_GW_UNC, color: RED, x: EP27, mean: GWU_RISK, hi: GWU_RISK_HI, lo: GWU_RISK_LO },
      { label: L_GW, color: BLUE, x: EP27, mean: GW_RISK, hi: GW_RISK_HI, lo: GW_RISK_LO },
      { label: L_ESG, color: VIOLET, x: EP27, mean: ESG_RISK, hi: ESG_RISK_HI, lo: ESG_RISK_LO },
    ],
    legend: [[0, 1], [2]], legendY: [559, 570.7], caption: ["(e) Climate risk"], capX: 478.3,
  },
  {
    ...ROW2, title: "Market Total Wealth", cx: 791, titleY: 358,
    L: 676, T: 377, R: 933, B: 529, xMax: 27000, xTicks: X_TICKS_27,
    yType: "linear", yMin: 0, yMax: 3832, yTicks: Y_WEALTH_F, yLabels: Y_WEALTH_F, xPad: 3,
    epDx: 6.6, epDy: 9.3,
    series: [
      { label: L_GW_UNC, color: RED, x: EP27, mean: GWU_WEALTH, hi: GWU_WEALTH_HI, lo: GWU_WEALTH_LO },
      { label: L_GW, color: BLUE, x: EP27, mean: GW_WEALTH, hi: GW_WEALTH_HI, lo: GW_WEALTH_LO },
      { label: L_ESG, color: VIOLET, x: EP27, mean: ESG_WEALTH, hi: ESG_WEALTH_HI, lo: ESG_WEALTH_LO },
    ],
    legend: [[0, 1], [2]], legendY: [560, 571.7], caption: ["(f) Market total wealth"], capX: 787,
  },
  {
    ...ROW2, title: "Total Greenwash Amount", cx: 1103.5, titleY: 348,
    L: 977, T: 368, R: 1250, B: 530, xMax: 27000, xTicks: X_TICKS_27,
    yType: "logarithmic", yMin: 0.842, yMax: 314, yTicks: Y_LOG_G, yLabels: Y_LOG_G_LABELS, xPad: 0.5,
    epDx: 5.7, epDy: 14,
    series: [
      { label: L_GW_UNC, color: RED, x: EP27, mean: GWU_GW, hi: GWU_GW_HI, lo: GWU_GW_LO },
      { label: L_GW, color: BLUE, x: EP27, mean: GW_GW, hi: GW_GW_HI, lo: GW_GW_LO },
      { label: L_ESG, color: VIOLET, x: ESG_GW_X, mean: ESG_GW },
    ],
    legend: [[0, 1], [2]], legendY: [558.3, 570], caption: ["(g) Greenwash spending"], capX: 1100.8,
  },
  {
    ...ROW3, title: "Total Mitigation Amount", cx: 163, titleY: 628,
    L: 42, T: 641, R: 304, B: 798, xMax: 45000, xTicks: X_TICKS_45,
    yType: "linear", yMin: 1, yMax: 207.5, yTicks: Y_MIT, yLabels: Y_MIT, xPad: 6.9,
    epDx: 5, epDy: 8.7,
    series: [
      { label: L_BK_UNC, color: GREEN, x: EP45, mean: BKU_MIT, hi: BKU_MIT_HI, lo: BKU_MIT_LO },
      { label: L_BK, color: ORANGE, x: EP45, mean: BK_MIT, hi: BK_MIT_HI, lo: BK_MIT_LO },
      { label: L_SQ, color: MAGENTA, x: EP45, mean: SQ_MIT, hi: SQ_MIT_HI, lo: SQ_MIT_LO },
    ],
    legend: [[0], [1, 2]], legendY: [828.3, 841], caption: ["(h) Mitigation spending"], capX: 158,
  },
  {
    ...ROW3, title: "Climate Risk", cx: 469, titleY: 627.5,
    L: 344, T: 647, R: 610, B: 798, xMax: 45000, xTicks: X_TICKS_45,
    yType: "logarithmic", yMin: 0.516, yMax: 1.036, yTicks: Y_RISK, yLabels: Y_RISK, xPad: 6.9,
    epDx: 5, epDy: 8.7,
    series: [
      { label: L_BK_UNC, color: GREEN, x: EP45, mean: BKU_RISK, hi: BKU_RISK_HI, lo: BKU_RISK_LO },
      { label: L_BK, color: ORANGE, x: EP45, mean: BK_RISK, hi: BK_RISK_HI, lo: BK_RISK_LO },
      { label: L_SQ, color: MAGENTA, x: EP45, mean: SQ_RISK, hi: SQ_RISK_HI, lo: SQ_RISK_LO },
    ],
    legend: [[0], [1, 2]], legendY: [828.3, 841], caption: ["(i) Climate risk"], capX: 464.2,
  },
  {
    ...ROW3, title: "Market Total Wealth", cx: 772.5, titleY: 631.5,
    L: 660, T: 650, R: 911, B: 798, xMax: 45000, xTicks: X_TICKS_45,
    yType: "linear", yMin: 94, yMax: 4156, yTicks: Y_WEALTH, yLabels: Y_WEALTH, xPad: 7.2,
    epDx: 5, epDy: 8.3,
    series: [
      { label: L_BK_UNC, color: GREEN, x: EP45, mean: BKU_WEALTH, hi: BKU_WEALTH_HI, lo: BKU_WEALTH_LO },
      { label: L_BK_REAL, color: ORANGE, x: EP45, mean: BK_WEALTH, hi: BK_WEALTH_HI, lo: BK_WEALTH_LO },
      { label: L_SQ, color: MAGENTA, x: EP45, mean: SQ_WEALTH, hi: SQ_WEALTH_HI, lo: SQ_WEALTH_LO },
    ],
    legend: [[0], [1, 2]], legendY: [829, 841.7], caption: ["(j) Market total wealth"], capX: 770.3,
  },
  {
    ...ROW3, title: "Number of Bankrupt Companies", cx: 1079.5, titleY: 628.5,
    L: 955, T: 647, R: 1220, B: 798, xMax: 45000, xTicks: X_TICKS_45,
    yType: "linear", yMin: 0, yMax: 2.824, yTicks: Y_COUNT, yLabels: Y_COUNT, xPad: 6.4,
    epDx: 5, epDy: 8.7,
    series: [
      { label: L_BK_UNC, color: GREEN, x: EP45, mean: BKU_COUNT, hi: BKU_COUNT_HI, lo: BKU_COUNT_LO },
      { label: L_SQ, color: MAGENTA, x: SQ_COUNT_X, mean: SQ_COUNT },
      { label: L_BK, color: ORANGE, x: BK_COUNT_X, mean: BK_COUNT, hi: BK_COUNT_HI, lo: BK_COUNT_LO },
    ],
    legend: [[0], [1, 2]], legendY: [828.3, 841], caption: ["(k) Number of bankrupt compa-", "nies"], capX: 928, capLeft: true,
  },
];

function rgba(hex: string, a: number) {
  const n = parseInt(hex.slice(1), 16);
  return `rgba(${(n >> 16) & 255},${(n >> 8) & 255},${n & 255},${a})`;
}

const episodePlugin = {
  id: "episodeLabel",
  afterDraw(chart: any, _args: any, opts: any) {
    const { ctx, chartArea } = chart;
    ctx.save();
    ctx.font = `${opts.size}px ${SANS}`;
    ctx.fillStyle = "#7b7b83";
    ctx.textAlign = "right";
    ctx.textBaseline = "middle";
    ctx.fillText("Episode", chartArea.right - opts.dx, chartArea.bottom - opts.dy);
    ctx.restore();
  },
};

const PT = 10;
const PR = 8;
const XH = 30;

function makeConfig(p: Panel): any {
  const n = p.series.length;
  const lines: any[] = [];
  const bands: any[] = [];
  p.series.forEach((s, i) => {
    const last = s.mean.length - 1;
    lines.push({
      label: s.label,
      data: s.x.map((x, k) => ({ x, y: s.mean[k] })),
      borderColor: s.color,
      backgroundColor: s.color,
      borderWidth: p.lw,
      pointRadius: (c: any) => (c.dataIndex === last ? p.dot : 0),
      pointBackgroundColor: s.color,
      pointBorderWidth: 0,
      pointHoverRadius: 0,
      tension: 0,
      fill: false,
      borderJoinStyle: "round",
      order: n - i,
      clip: { left: 0, top: 6, right: 6, bottom: 6 },
    });
    if (s.hi && s.lo) {
      const hi = s.hi;
      const lo = s.lo;
      bands.push({
        label: s.label + " max",
        data: s.x.map((x, k) => ({ x, y: hi[k] })),
        borderWidth: 0,
        borderColor: "rgba(0,0,0,0)",
        backgroundColor: rgba(s.color, 0.2),
        pointRadius: 0,
        tension: 0,
        fill: "+1",
        order: 100 + n - i,
      });
      bands.push({
        label: s.label + " min",
        data: s.x.map((x, k) => ({ x, y: lo[k] })),
        borderWidth: 0,
        borderColor: "rgba(0,0,0,0)",
        backgroundColor: rgba(s.color, 0.2),
        pointRadius: 0,
        tension: 0,
        fill: false,
        order: 100 + n - i,
      });
    }
  });
  const zeroPad = (s: any) => {
    s.paddingLeft = 0;
    s.paddingRight = 0;
    s.paddingTop = 0;
    s.paddingBottom = 0;
  };
  return {
    type: "line",
    data: { datasets: [...lines, ...bands] },
    plugins: [episodePlugin],
    options: {
      responsive: false,
      animation: false,
      events: [],
      layout: { padding: { left: 0, right: PR, top: PT, bottom: 0 } },
      plugins: {
        legend: { display: false },
        tooltip: { enabled: false },
        title: { display: false },
        episodeLabel: { size: p.epSize, dx: p.epDx, dy: p.epDy },
      },
      scales: {
        x: {
          type: "linear",
          min: 0,
          max: p.xMax,
          afterFit: (s: any) => {
            s.height = XH;
            zeroPad(s);
          },
          afterBuildTicks: (s: any) => {
            s.ticks = p.xTicks.map((v) => ({ value: v }));
          },
          ticks: {
            autoSkip: false,
            maxRotation: 0,
            minRotation: 0,
            padding: p.xPad,
            color: TICK,
            font: { family: SANS, size: p.tickSize },
            callback: (v: any) => (Number(v) === 0 ? "0" : `${Number(v) / 1000}k`),
          },
          grid: { drawOnChartArea: false, drawTicks: true, tickLength: p.tickLen, color: AXIS, lineWidth: 1 },
          border: { display: true, color: AXIS, width: 1.5 },
        },
        y: {
          type: p.yType,
          min: p.yMin,
          max: p.yMax,
          afterFit: (s: any) => {
            s.width = p.yw;
            zeroPad(s);
          },
          afterBuildTicks: (s: any) => {
            s.ticks = p.yTicks.map((v) => ({ value: v }));
          },
          ticks: {
            autoSkip: false,
            padding: p.yPad,
            color: TICK,
            font: { family: SANS, size: p.tickSize },
            callback: (v: any) => (p.yLabels.includes(Number(v)) ? String(Number(v)) : ""),
          },
          grid: { color: GRID, drawTicks: true, tickLength: p.tickLen, lineWidth: 1 },
          border: { display: true, color: AXIS, width: 1.5 },
        },
      },
    },
  };
}

function PanelView({ p }: { p: Panel }) {
  const ref = useRef<HTMLCanvasElement>(null);
  const W = Math.round(p.R - p.L + p.yw + PR);
  const H = Math.round(p.B - p.T + PT + XH);
  useEffect(() => {
    if (!ref.current) return;
    const chart = new Chart(ref.current, makeConfig(p));
    return () => chart.destroy();
  }, []);
  const tLH = Math.round(p.titleSize * 1.3);
  const lLH = Math.round(p.legendSize * 1.35);
  const capLH = 26;
  return (
    <>
      <canvas
        ref={ref}
        width={W}
        height={H}
        style={{ position: "absolute", left: p.L - p.yw, top: p.T - PT, width: W, height: H }}
      />
      <div
        style={{
          position: "absolute", left: p.cx, top: p.titleY - tLH / 2, transform: "translateX(-50%)",
          fontFamily: SANS, fontWeight: 700, fontSize: p.titleSize, lineHeight: `${tLH}px`,
          color: "#3a3a3a", whiteSpace: "nowrap",
        }}
      >
        {p.title}
      </div>
      {p.legend.map((row, r) => (
        <div
          key={r}
          style={{
            position: "absolute", left: p.cx, top: p.legendY[r] - lLH / 2, height: lLH,
            transform: "translateX(-50%)", display: "flex", alignItems: "center",
            whiteSpace: "nowrap", fontFamily: SANS, fontSize: p.legendSize, lineHeight: `${lLH}px`,
          }}
        >
          {row.map((si, j) => {
            const s = p.series[si];
            return (
              <span key={si} style={{ display: "flex", alignItems: "center", marginLeft: j === 0 ? 0 : p.itemGap }}>
                <span style={{ display: "inline-block", width: p.dashW, height: p.dashH, background: s.color, marginRight: p.dashGap }} />
                <span style={{ color: s.color }}>{s.label}</span>
              </span>
            );
          })}
        </div>
      ))}
      {p.caption.map((c, k) => (
        <div
          key={k}
          style={{
            position: "absolute",
            left: p.capX,
            top: p.capY + k * capLH - capLH / 2,
            transform: p.capLeft ? "none" : "translateX(-50%)",
            fontFamily: SERIF, fontSize: 23.5, lineHeight: `${capLH}px`, color: "#000", whiteSpace: "nowrap",
          }}
        >
          {c}
        </div>
      ))}
    </>
  );
}

export default function App() {
  return (
    <div style={{ position: "absolute", left: 0, top: 0, width: 1268, height: 915, background: "#fff", overflow: "hidden" }}>
      {PANELS.map((p, i) => (
        <PanelView key={i} p={p} />
      ))}
    </div>
  );
}
